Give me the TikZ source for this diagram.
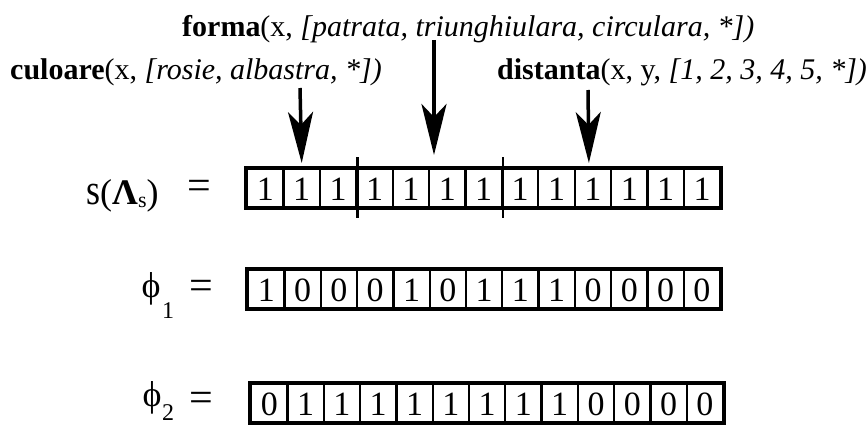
\documentclass[tikz,border=0pt]{standalone}
\usepackage{fontspec}
\usepackage{graphicx}
\setmainfont{Liberation Serif}
\usetikzlibrary{arrows.meta}
\tikzset{
  cell/.style={draw, line width=2.2pt, minimum width=36.4pt, minimum height=38pt,
    inner sep=0pt, text height=25pt, text depth=0pt,
    font=\fontsize{34}{34}\selectfont, anchor=north west},
  rowframe/.style={line width=3.2pt},
  bigarrow/.style={line width=3.5pt, -{Stealth[length=51pt,width=25pt,inset=13pt]}},
  divider/.style={line width=2.4pt},
  toplabel/.style={anchor=base west, inner sep=0pt, font=\fontsize{30}{30}\selectfont},
  lab/.style={inner sep=0pt, font=\fontsize{36}{36}\selectfont},
  eqsign/.style={inner sep=0pt, anchor=base, font=\fontsize{42}{42}\selectfont},
  subnum/.style={inner sep=0pt, font=\fontsize{24}{24}\selectfont},
}
\begin{document}
\begin{tikzpicture}[x=1pt,y=-1pt]
\useasboundingbox (0,0) rectangle (867,428);

% top labels
\node[toplabel] (forma) at (182,37) {\textbf{forma}(x, \textit{[patrata, triunghiulara, circulara, *])}};
\node[toplabel] (culoare) at (10,80) {\textbf{culoare}(x, \textit{[rosie, albastra, *])}};
\node[toplabel] (distanta) at (497,80) {\textbf{distanta}(x, y, \textit{[1, 2, 3, 4, 5, *])}};

% row s
\foreach \v [count=\i] in {1,1,1,1,1,1,1,1,1,1,1,1,1}
  \node[cell] (s\i) at ({246+(\i-1)*36.4},168) {\v};
\draw[rowframe] (s1.north west) rectangle (s13.south east);
\draw[divider] ([yshift=11pt]s3.north east) -- ([yshift=-10pt]s3.south east);
\draw[divider] ([yshift=11pt]s7.north east) -- ([yshift=-10pt]s7.south east);

% row phi1
\foreach \v [count=\i] in {1,0,0,0,1,0,1,1,1,0,0,0,0}
  \node[cell] (p\i) at ({247+(\i-1)*36.3},269) {\v};
\draw[rowframe] (p1.north west) rectangle (p13.south east);

% row phi2
\foreach \v [count=\i] in {0,1,1,1,1,1,1,1,1,0,0,0,0}
  \node[cell] (q\i) at ({250+(\i-1)*36.3},383) {\v};
\draw[rowframe] (q1.north west) rectangle (q13.south east);

% left labels
\node[lab, anchor=base west] (slab) at (86,204) {\scalebox{1}[1.2]{s}(\textbf{Λ}\raisebox{-3pt}{\fontsize{22}{22}\selectfont s})};
\node[eqsign] (eqs) at (199,199) {=};
\node[lab] (phi1) at (151,289) {ϕ};
\node[subnum] (one) at (168,311) {1};
\node[eqsign] (eq1) at (201,299) {=};
\node[lab] (phi2) at (152,398) {ϕ};
\node[subnum] (two) at (168,413) {2};
\node[eqsign] (eq2) at (201,411) {=};

% arrows
\coordinate (a1) at (300,88);
\coordinate (a2) at (434,40);
\coordinate (a2e) at (434,155);
\coordinate (a3) at (588,90);
\draw[bigarrow] (a1) -- ([yshift=5pt]s2.north);
\draw[bigarrow] (a2) -- (a2e);
\draw[bigarrow] (a3) -- ([xshift=-4pt,yshift=5pt]s10.north);
\end{tikzpicture}
\end{document}
